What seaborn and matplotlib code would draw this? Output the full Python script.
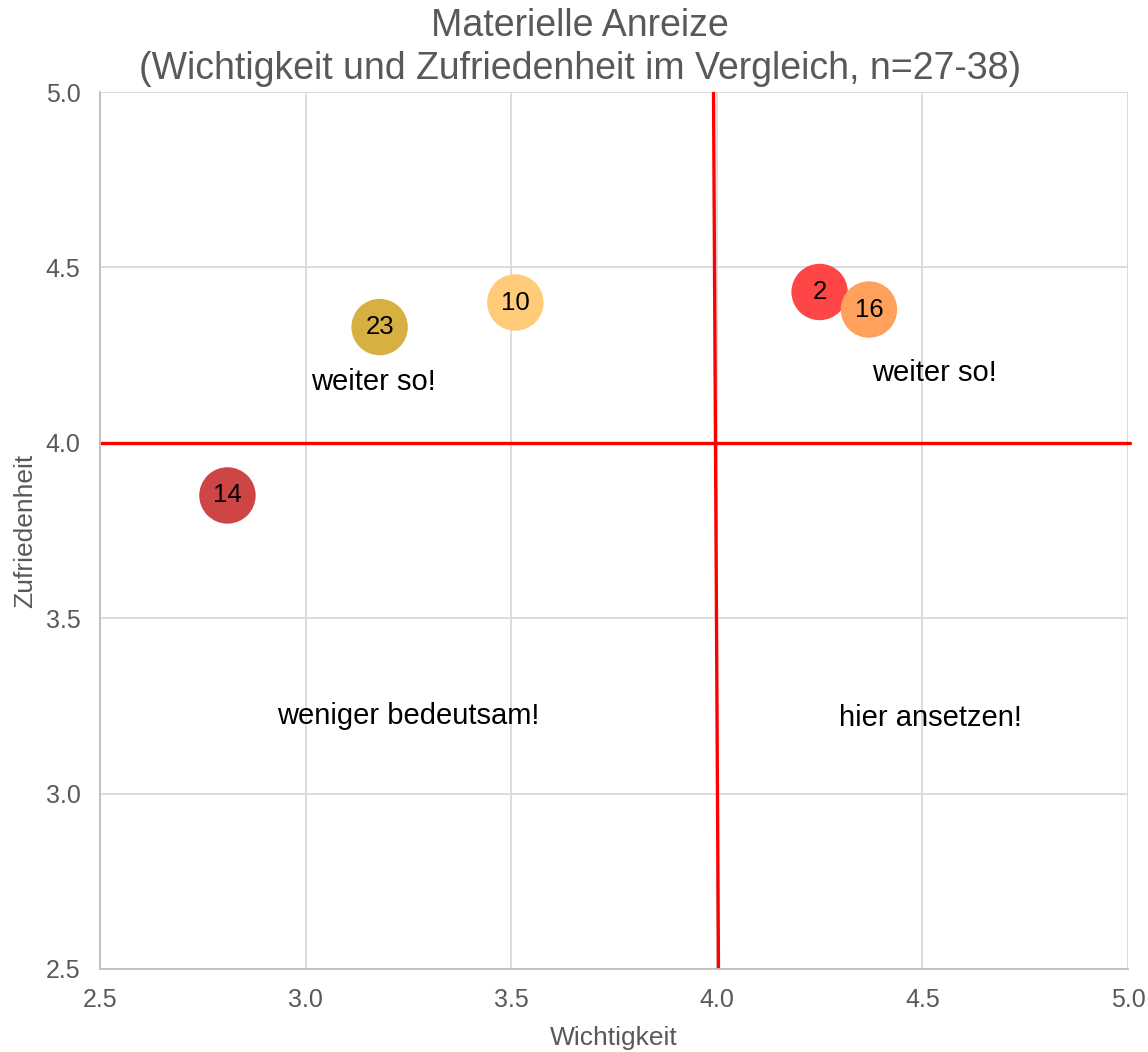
import matplotlib
matplotlib.use("Agg")
import matplotlib.pyplot as plt
import seaborn as sns
import pandas as pd

# Item numbers with mean importance (Wichtigkeit) and satisfaction (Zufriedenheit)
items = ["2", "16", "10", "23", "14"]
wichtigkeit = [4.25, 4.37, 3.51, 3.18, 2.81]
zufriedenheit = [4.43, 4.38, 4.40, 4.33, 3.85]
colors = ["#FF4646", "#FFA05C", "#FFCB78", "#D6B040", "#CD4545"]

# Quadrant separators
vline_x = [3.992, 4.004]
vline_y = [5.0, 2.5]
hline_x = [2.5, 5.005]
hline_y = [4.0, 4.0]

# Quadrant captions
captions = ["weiter so!", "weiter so!", "weniger bedeutsam!", "hier ansetzen!"]
caption_x = [3.165, 4.53, 3.25, 4.52]
caption_y = [4.172, 4.2, 3.222, 3.215]

ticks = [2.5, 3.0, 3.5, 4.0, 4.5, 5.0]

sns.set_theme(style="white")
plt.rcParams["font.family"] = ["Liberation Sans", "DejaVu Sans"]

df = pd.DataFrame({"item": items, "Wichtigkeit": wichtigkeit,
                   "Zufriedenheit": zufriedenheit})

fig = plt.figure(figsize=(11.48, 10.52), dpi=100)
ax = fig.add_axes([0.0871, 0.0789, 0.8955, 0.8336])

ax.set_xlim(2.5, 5.0)
ax.set_ylim(2.5, 5.0)
ax.set_xticks(ticks)
ax.set_yticks(ticks)
ax.set_xticklabels([f"{t:.1f}" for t in ticks])
ax.set_yticklabels([f"{t:.1f}" for t in ticks])
ax.grid(True, color="#D9D9D9", linewidth=1.3)
ax.set_axisbelow(True)

for side in ["top", "right"]:
    ax.spines[side].set_visible(False)
for side in ["left", "bottom"]:
    ax.spines[side].set_color("#BFBFBF")
    ax.spines[side].set_linewidth(1.3)

ax.plot(hline_x, hline_y, color="#FF0000", linewidth=2.4, zorder=2, clip_on=False)
ax.plot(vline_x, vline_y, color="#FF0000", linewidth=2.4, zorder=2)

sns.scatterplot(data=df, x="Wichtigkeit", y="Zufriedenheit", hue="item",
                palette=colors, s=1650, linewidth=0, legend=False,
                alpha=1.0, ax=ax, zorder=3)

for it, x, y in zip(items, wichtigkeit, zufriedenheit):
    ax.text(x, y, it, ha="center", va="center", fontsize=18.5,
            color="black", zorder=4)

for t, x, y in zip(captions, caption_x, caption_y):
    ax.text(x, y, t, ha="center", va="center", fontsize=21, color="black", zorder=4)

ax.tick_params(axis="both", labelsize=18, colors="#595959", length=0)
ax.tick_params(axis="x", pad=14)
ax.tick_params(axis="y", pad=14)
ax.set_xlabel("Wichtigkeit", fontsize=19, color="#595959", labelpad=10)
ax.set_ylabel("Zufriedenheit", fontsize=19, color="#595959", labelpad=6)

fig.text(0.5055, 0.975, "Materielle Anreize", ha="center", va="center",
         fontsize=27, color="#595959")
fig.text(0.5055, 0.9345, "(Wichtigkeit und Zufriedenheit im Vergleich, n=27-38)",
         ha="center", va="center", fontsize=27, color="#595959")

fig.savefig("out.png", dpi=100, facecolor="white")
